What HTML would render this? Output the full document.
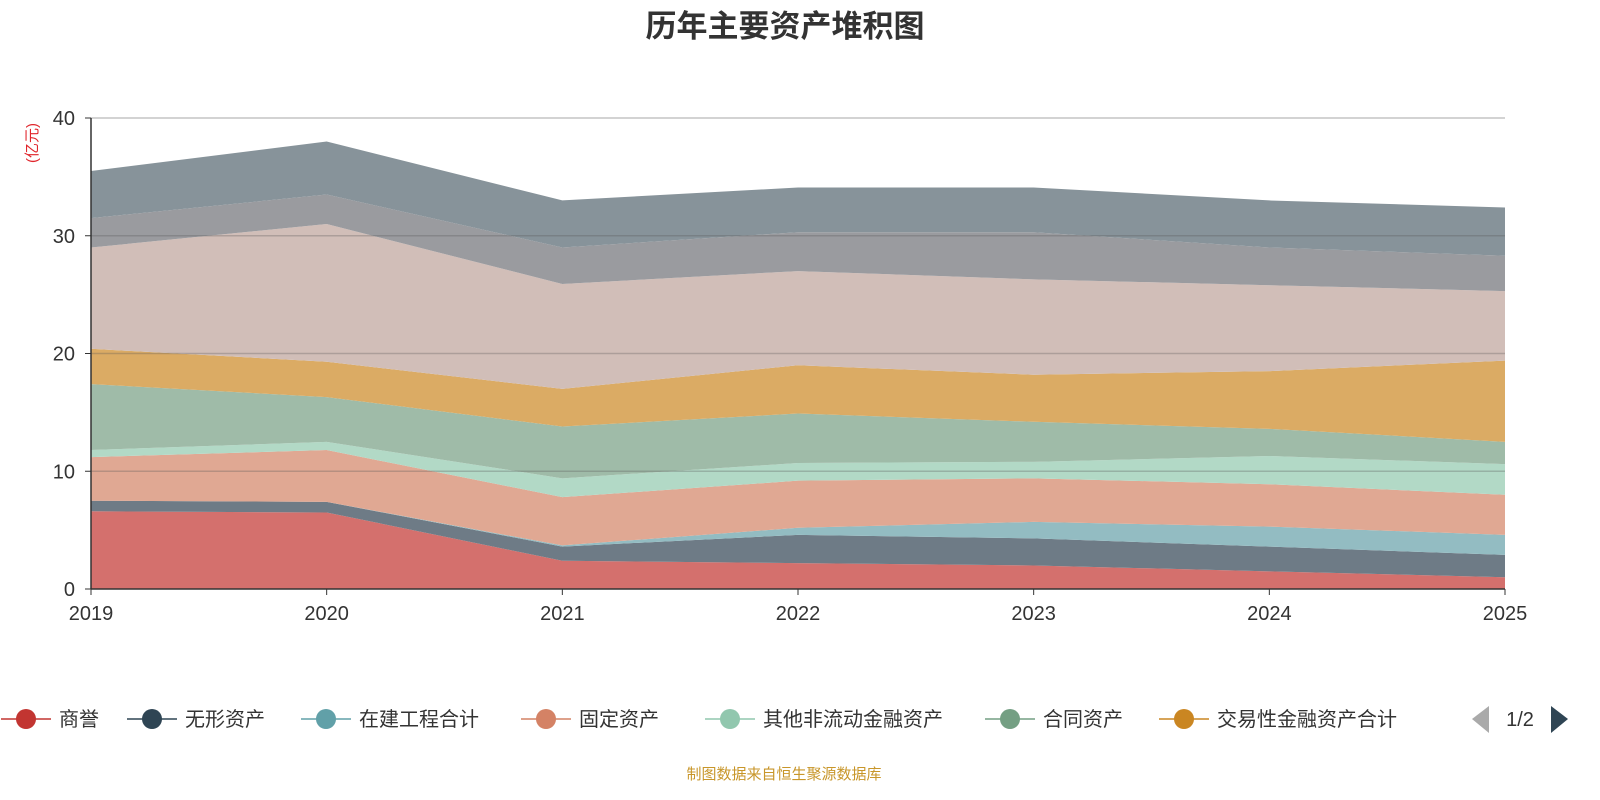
<!DOCTYPE html>
<html><head><meta charset="utf-8"><style>
body{margin:0;background:#fff;}
svg{display:block;font-family:"Liberation Sans","Noto Sans CJK SC",sans-serif;}
</style></head><body>
<svg id="chart" width="1600" height="800">
<text x="785" y="37" text-anchor="middle" font-size="31" font-weight="bold" fill="#333">历年主要资产堆积图</text>
<text transform="translate(37,143) rotate(-90)" text-anchor="middle" font-size="15" fill="#e0252b">(亿元)</text>
<g id="areas"></g><g id="grid"></g><g id="axes"></g><g id="legend"></g>
<text x="784" y="779" text-anchor="middle" font-size="15" fill="#c8962a">制图数据来自恒生聚源数据库</text>
</svg>
<script>
const years=['2019','2020','2021','2022','2023','2024','2025'];
const yTicks=[0,10,20,30,40];
const names=['商誉','无形资产','在建工程合计','固定资产','其他非流动金融资产','合同资产','交易性金融资产合计','其他资产A','其他资产B','其他资产C'];
const s1=[6.6,6.5,2.4,2.2,2.0,1.5,1.0];
const s2=[0.9,0.9,1.2,2.4,2.3,2.1,1.9];
const s3=[0.0,0.0,0.1,0.6,1.4,1.7,1.7];
const s4=[3.7,4.4,4.1,4.0,3.7,3.6,3.4];
const s5=[0.6,0.7,1.6,1.5,1.4,2.4,2.6];
const s6=[5.6,3.8,4.4,4.2,3.4,2.3,1.9];
const s7=[3.0,3.0,3.2,4.1,4.0,4.9,6.9];
const s8=[8.6,11.7,8.9,8.0,8.1,7.3,5.9];
const s9=[2.5,2.5,3.1,3.3,4.0,3.2,3.0];
const s10=[4.0,4.5,4.0,3.8,3.8,4.0,4.1];
const series=[s1,s2,s3,s4,s5,s6,s7,s8,s9,s10];
const fills=['#d4706d','#6e7b86','#93bcc2','#e0a893','#b2d9c6','#9fbba8','#dbab64','#d1beb8','#9a9b9f','#87939a'];
const legendColors=['#c23531','#2f4554','#61a0a8','#d48265','#91c7ae','#749f83','#ca8622'];
const X0=91,X1=1505,Y0=589,Y1=118;
const xS=i=>X0+(X1-X0)*i/(years.length-1);
const yS=v=>Y0-(Y0-Y1)*v/40;
const NS='http://www.w3.org/2000/svg';
function mk(t,a,p){const e=document.createElementNS(NS,t);for(const k in a)e.setAttribute(k,a[k]);p.appendChild(e);return e;}
let base=years.map(()=>0);
const areas=document.getElementById('areas');
series.forEach((s,si)=>{
 const top=base.map((b,i)=>b+s[i]);
 let d='M'+top.map((v,i)=>xS(i)+','+yS(v)).join('L');
 for(let i=years.length-1;i>=0;i--)d+='L'+xS(i)+','+yS(base[i]);
 const p=mk('path',{d:d+'Z',fill:fills[si]},areas);
 
 
 base=top;
});
const grid=document.getElementById('grid'),axes=document.getElementById('axes');
yTicks.forEach(v=>{
 if(v>0){const l=mk('line',{x1:X0,x2:X1,y1:yS(v),y2:yS(v),stroke:'#555','stroke-opacity':v==40?0.35:0.3,'stroke-width':1.5},grid);
 }
 mk('line',{x1:X0-6,x2:X0,y1:yS(v),y2:yS(v),stroke:'#333'},axes);
 const t=mk('text',{x:X0-16,y:yS(v)+7,'text-anchor':'end','font-size':20,fill:'#333'},axes);t.textContent=v;
 
});
mk('line',{x1:X0,x2:X0,y1:Y1,y2:Y0,stroke:'#333','stroke-width':1.5},axes);
mk('line',{x1:X0,x2:X1,y1:Y0,y2:Y0,stroke:'#333','stroke-width':1.5},axes);
years.forEach((y,i)=>{
 mk('line',{x1:xS(i),x2:xS(i),y1:Y0,y2:Y0+6,stroke:'#333'},axes);
 const t=mk('text',{x:xS(i),y:Y0+31,'text-anchor':'middle','font-size':20,fill:'#333'},axes);t.textContent=y;
 
});
const lg=document.getElementById('legend');
const lx=[26,152,326,546,730,1010,1184];
names.slice(0,7).forEach((n,i)=>{
 const g=mk('g',{},lg);
 
 
 mk('line',{x1:lx[i]-25,x2:lx[i]+25,y1:719,y2:719,stroke:legendColors[i],'stroke-width':1.5},g);
 mk('circle',{cx:lx[i],cy:719,r:10,fill:legendColors[i]},g);
 const t=mk('text',{x:lx[i]+33,y:726,'font-size':20,fill:'#333'},g);t.textContent=n;
});
const pp=mk('path',{d:'M1489,706L1489,733L1472,719Z',fill:'#aaa'},lg);

const pt=mk('text',{x:1520,y:726,'text-anchor':'middle','font-size':20,fill:'#333'},lg);pt.textContent='1/2';

const pn=mk('path',{d:'M1551,706L1551,733L1568,719Z',fill:'#2f4554'},lg);

</script>
</body></html>
